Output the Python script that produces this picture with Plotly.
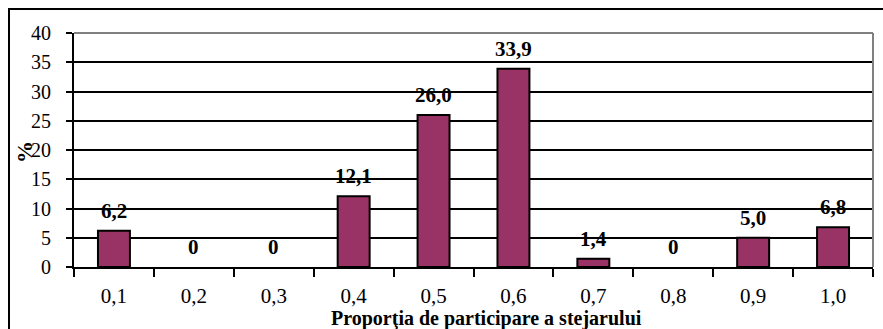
import plotly.graph_objects as go

# Share of oak in the stand composition and the percentage of plots in each class
categories = ["0,1", "0,2", "0,3", "0,4", "0,5", "0,6", "0,7", "0,8", "0,9", "1,0"]
percentages = [6.2, 0, 0, 12.1, 26.0, 33.9, 1.4, 0, 5.0, 6.8]
value_labels = ["6,2", "0", "0", "12,1", "26,0", "33,9", "1,4", "0", "5,0", "6,8"]
y_ticks = [0, 5, 10, 15, 20, 25, 30, 35, 40]

W, H = 883, 329
L, R, T, B = 74, 10, 33, 62
pw, ph = W - L - R, H - T - B

FONT = "Liberation Serif"

fig = go.Figure()
fig.add_trace(go.Bar(
    x=categories,
    y=percentages,
    width=0.4,
    marker=dict(color="#993366",
                line=dict(color="black",
                          width=[2 if v > 0 else 0 for v in percentages])),
    hoverinfo="skip",
))

# value labels above each bar
for c, v, t in zip(categories, percentages, value_labels):
    fig.add_annotation(x=c, y=v, text=f"<b>{t}</b>", showarrow=False,
                       yanchor="middle", yshift=20,
                       font=dict(family=FONT, size=21, color="black"))


def px_x(x):
    return (x - L) / pw


def px_y(y):
    return (H - B - y) / ph


shapes = [
    # outer chart frame
    dict(type="rect", xref="paper", yref="paper",
         x0=px_x(9), x1=px_x(W + 5), y0=px_y(H + 5), y1=px_y(9),
         line=dict(color="black", width=2), layer="below"),
    # grey top and right edges of the plot area
    dict(type="line", xref="paper", yref="paper", x0=0, x1=1, y0=1, y1=1,
         line=dict(color="#808080", width=2)),
    dict(type="line", xref="paper", yref="paper", x0=1, x1=1, y0=0, y1=1,
         line=dict(color="#808080", width=2)),
]

fig.add_annotation(xref="paper", yref="paper", x=px_x(24), y=px_y(152),
                   xanchor="center", yanchor="middle",
                   text="<b>%</b>", textangle=-90, showarrow=False,
                   font=dict(family=FONT, size=22, color="black"))
fig.add_annotation(xref="paper", yref="paper", x=px_x(486), y=px_y(318),
                   text="<b>Proporţia de participare a stejarului</b>",
                   showarrow=False, xanchor="center", yanchor="middle",
                   font=dict(family=FONT, size=20, color="black"))

fig.update_layout(
    width=W, height=H,
    margin=dict(l=L, r=R, t=T, b=B, autoexpand=False),
    paper_bgcolor="white", plot_bgcolor="white",
    showlegend=False,
    shapes=shapes,
    font=dict(family=FONT, size=20, color="black"),
    bargap=0.6,
)
fig.update_xaxes(
    type="category",
    tickson="boundaries",
    ticks="outside", ticklen=8, tickwidth=2, tickcolor="black",
    showline=True, linecolor="black", linewidth=2,
    showgrid=False,
    ticklabelstandoff=9,
    tickfont=dict(family=FONT, size=21, color="black"),
)
fig.update_yaxes(
    range=[0, 40],
    tickvals=y_ticks,
    ticks="outside", ticklen=6, tickwidth=2, tickcolor="black",
    showline=True, linecolor="black", linewidth=2,
    showgrid=True, gridcolor="black", gridwidth=2,
    zeroline=False,
    ticklabelstandoff=11,
    tickfont=dict(family=FONT, size=20, color="black"),
)

fig.write_html("out.html")
